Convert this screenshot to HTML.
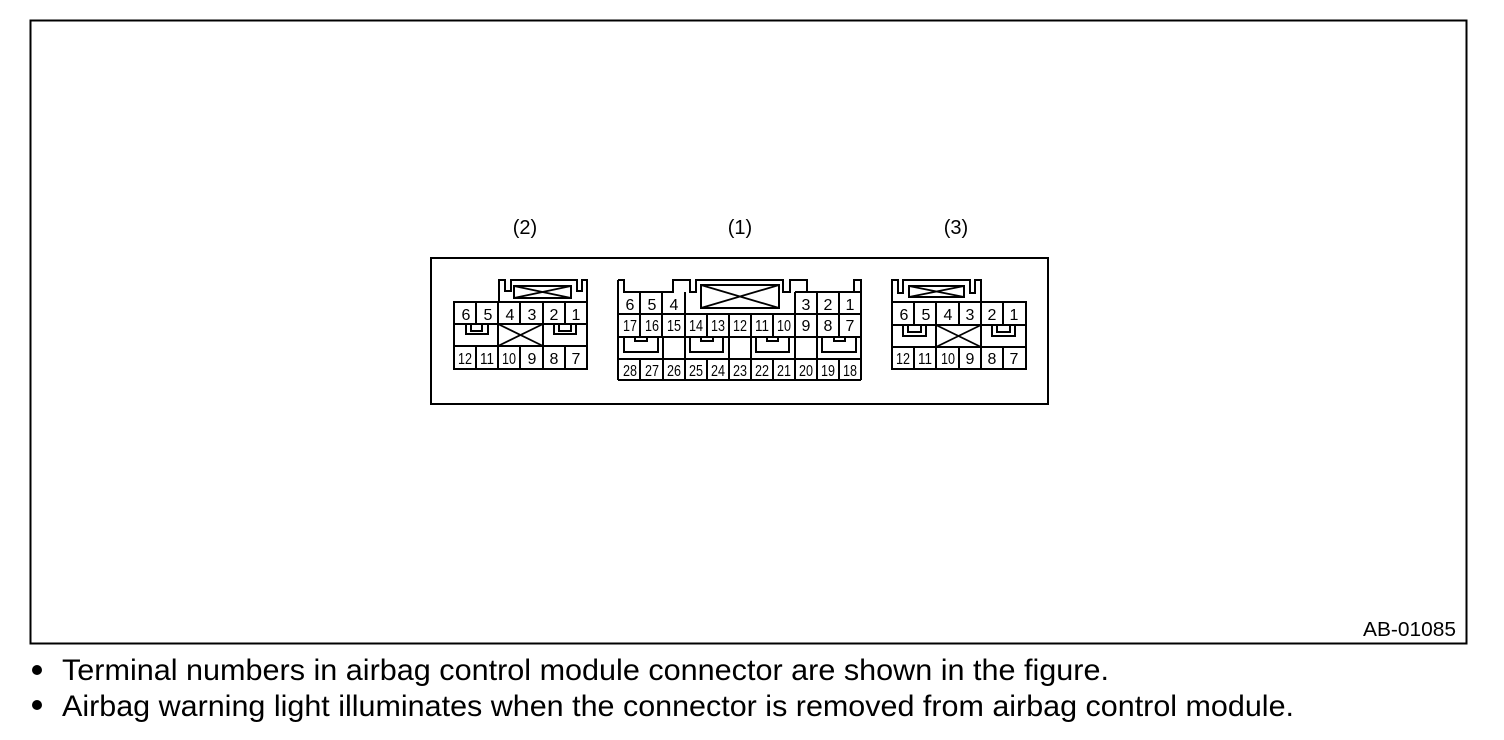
<!DOCTYPE html>
<html><head><meta charset="utf-8"><style>
html,body{margin:0;padding:0;background:#fff;width:1504px;height:740px;overflow:hidden}
svg{display:block}
text{font-family:"Liberation Sans",sans-serif;fill:#000}
.n{font-size:16px;text-anchor:middle}
.s{font-size:15.500px;text-anchor:middle}
.l{font-size:20px;text-anchor:middle}
.b{font-size:29.500px}
path,line,rect{shape-rendering:crispEdges}
.x{shape-rendering:auto}
</style></head><body>
<svg width="1504" height="740" viewBox="0 0 1504 740" xmlns="http://www.w3.org/2000/svg">
<g fill="none" stroke="#000" stroke-width="2">
<rect x="30.5" y="20.5" width="1436" height="623" />
<rect x="431" y="258" width="617" height="146" />

<!-- connector 2 -->
<path d="M454 302H587V369H454ZM454 324H587M454 346H587"/>
<path d="M476 302V324M498 302V324M520 302V324M543 302V324M565 302V324M476 346V369M498 346V369M520 346V369M543 346V369M565 346V369M498 324V346M543 324V346"/>
<path d="M499 302V280H505V291H511V280H577V291H582V280H587V302"/>
<rect x="514" y="286" width="57" height="12"/>
<path class="x" d="M514 286L571 298M514 298L571 286M498 324L543 346M498 346L543 324" stroke-width="1.800"/>
<path d="M466 324V334H488V324M471 324V331H482V324M554 324V334H576V324M559 324V331H571V324"/>

<!-- connector 1 -->
<path d="M618 314H861M618 337H861M618 359H861M618 380H861M618 280V380M861 292V380"/>
<path d="M618 280H624V292H673V280H690V292H696V280H783V292H790V280H807V292M795 292H861V280H854V292"/>
<path d="M640 292V337M662 292V337M685 292V337M795 292V337M817 292V337M839 292V337M707 314V337M729 314V337M751 314V337M773 314V337"/>
<path d="M663 337V380M685 337V380M729 337V380M751 337V380M795 337V380M817 337V380M640 359V380M707 359V380M773 359V380M839 359V380"/>
<rect x="701" y="285" width="78" height="23"/>
<path class="x" d="M701 285L779 308M701 308L779 285" stroke-width="1.800"/>
<path d="M624 337V352H658V337M635 337V341H647V337M690 337V352H723V337M701 337V341H713V337M756 337V352H789V337M767 337V341H778V337M822 337V352H856V337M834 337V341H845V337"/>

<!-- connector 3 -->
<path d="M892 302H1026V369H892ZM892 325H1026M892 347H1026"/>
<path d="M914 302V325M936 302V325M959 302V325M981 302V325M1003 302V325M914 347V369M936 347V369M959 347V369M981 347V369M1003 347V369M936 325V347M981 325V347"/>
<path d="M892 302V280H898V293H903V280H970V293H975V280H981V302"/>
<rect x="909" y="286" width="55" height="11"/>
<path class="x" d="M909 286L964 297M909 297L964 286M936 325L981 347M936 347L981 325" stroke-width="1.800"/>
<path d="M903 325V336H926V325M908 325V332H921V325M992 325V336H1015V325M997 325V332H1010V325"/>
</g>

<!-- labels -->
<text class="l" x="525" y="234">(2)</text>
<text class="l" x="740" y="234">(1)</text>
<text class="l" x="956" y="234">(3)</text>

<!-- conn 2 numbers -->
<text class="n" x="466" y="320">6</text><text class="n" x="488" y="320">5</text><text class="n" x="510" y="320">4</text><text class="n" x="532" y="320">3</text><text class="n" x="554" y="320">2</text><text class="n" x="576" y="320">1</text>
<text class="s" x="465" y="364" textLength="14" lengthAdjust="spacingAndGlyphs">12</text><text class="s" x="487" y="364" textLength="14" lengthAdjust="spacingAndGlyphs">11</text><text class="s" x="509" y="364" textLength="14" lengthAdjust="spacingAndGlyphs">10</text><text class="n" x="532" y="364">9</text><text class="n" x="554" y="364">8</text><text class="n" x="576" y="364">7</text>

<!-- conn 1 numbers -->
<text class="n" x="630" y="310">6</text><text class="n" x="652" y="310">5</text><text class="n" x="674" y="310">4</text><text class="n" x="806" y="310">3</text><text class="n" x="828" y="310">2</text><text class="n" x="850" y="310">1</text>
<text class="s" x="630" y="331" textLength="14" lengthAdjust="spacingAndGlyphs">17</text><text class="s" x="652" y="331" textLength="14" lengthAdjust="spacingAndGlyphs">16</text><text class="s" x="674" y="331" textLength="14" lengthAdjust="spacingAndGlyphs">15</text><text class="s" x="696" y="331" textLength="14" lengthAdjust="spacingAndGlyphs">14</text><text class="s" x="718" y="331" textLength="14" lengthAdjust="spacingAndGlyphs">13</text><text class="s" x="740" y="331" textLength="14" lengthAdjust="spacingAndGlyphs">12</text><text class="s" x="762" y="331" textLength="14" lengthAdjust="spacingAndGlyphs">11</text><text class="s" x="784" y="331" textLength="14" lengthAdjust="spacingAndGlyphs">10</text><text class="n" x="806" y="331">9</text><text class="n" x="828" y="331">8</text><text class="n" x="850" y="331">7</text>
<text class="s" x="630" y="376" textLength="14" lengthAdjust="spacingAndGlyphs">28</text><text class="s" x="652" y="376" textLength="14" lengthAdjust="spacingAndGlyphs">27</text><text class="s" x="674" y="376" textLength="14" lengthAdjust="spacingAndGlyphs">26</text><text class="s" x="696" y="376" textLength="14" lengthAdjust="spacingAndGlyphs">25</text><text class="s" x="718" y="376" textLength="14" lengthAdjust="spacingAndGlyphs">24</text><text class="s" x="740" y="376" textLength="14" lengthAdjust="spacingAndGlyphs">23</text><text class="s" x="762" y="376" textLength="14" lengthAdjust="spacingAndGlyphs">22</text><text class="s" x="784" y="376" textLength="14" lengthAdjust="spacingAndGlyphs">21</text><text class="s" x="806" y="376" textLength="14" lengthAdjust="spacingAndGlyphs">20</text><text class="s" x="828" y="376" textLength="14" lengthAdjust="spacingAndGlyphs">19</text><text class="s" x="850" y="376" textLength="14" lengthAdjust="spacingAndGlyphs">18</text>

<!-- conn 3 numbers -->
<text class="n" x="904" y="320">6</text><text class="n" x="926" y="320">5</text><text class="n" x="948" y="320">4</text><text class="n" x="970" y="320">3</text><text class="n" x="992" y="320">2</text><text class="n" x="1014" y="320">1</text>
<text class="s" x="903" y="364" textLength="14" lengthAdjust="spacingAndGlyphs">12</text><text class="s" x="925" y="364" textLength="14" lengthAdjust="spacingAndGlyphs">11</text><text class="s" x="948" y="364" textLength="14" lengthAdjust="spacingAndGlyphs">10</text><text class="n" x="970" y="364">9</text><text class="n" x="992" y="364">8</text><text class="n" x="1014" y="364">7</text>

<text x="1363" y="636" font-size="20" textLength="93" lengthAdjust="spacingAndGlyphs">AB-01085</text>
<circle cx="37" cy="670" r="5"/>
<circle cx="37" cy="705" r="5"/>
<text class="b" x="62" y="680" textLength="1047" lengthAdjust="spacingAndGlyphs">Terminal numbers in airbag control module connector are shown in the figure.</text>
<text class="b" x="62" y="716" textLength="1232" lengthAdjust="spacingAndGlyphs">Airbag warning light illuminates when the connector is removed from airbag control module.</text>
</svg>
</body></html>
